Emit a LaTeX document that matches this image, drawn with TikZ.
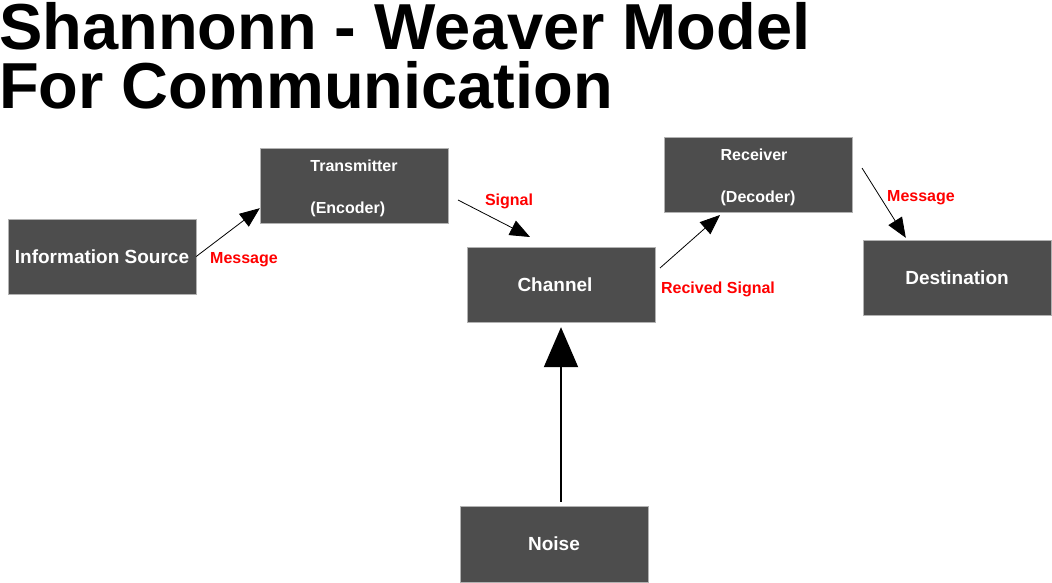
\documentclass[tikz,border=0pt]{standalone}
\usepackage{fontspec}
\setmainfont{Liberation Sans}
\usetikzlibrary{arrows.meta,calc}
\definecolor{gris}{RGB}{77,77,77}
\colorlet{rojo}{red}

\begin{document}
\begin{tikzpicture}[x=1pt,y=1pt,>={Triangle[length=20pt,width=16pt]},
  caja/.style={draw=gray!60,fill=gris,text=white,minimum width=188pt,minimum height=75pt,inner sep=0pt,font=\fontsize{19}{22}\selectfont\bfseries},
  caja2/.style={caja,align=left,font=\fontsize{16}{42}\selectfont\bfseries},
  etq/.style={text=rojo,inner sep=0pt,font=\fontsize{16}{19}\selectfont\bfseries}]
\useasboundingbox (0,0) rectangle (1052,582);
\node[anchor=north west,align=left,inner sep=0pt,font=\fontsize{65}{59}\selectfont\bfseries] (titulo) at (-1,579.5) {Shannonn - Weaver Model\\For Communication};
\node[caja] (fuente) at (102,325.5) {Information Source};
\node[caja2] (trans) at (354,396.5) {\rule{0pt}{17.5pt}Transmitter\\(Encoder)};
\node[caja] (canal) at (561,297.5) {\hspace*{-12pt}Channel};
\node[caja2] (recep) at (758,407.5) {\rule{0pt}{17.5pt}Receiver\\(Decoder)};
\node[caja] (dest) at (957,304.5) {Destination};
\node[caja,minimum height=76pt] (ruido) at (554,38) {Noise};
\coordinate (s1) at (458,382); \coordinate (s2) at (530,345);
\coordinate (r1) at (660,314); \coordinate (r2) at (720,367);
\coordinate (m2) at (862,414);
\draw[->,line width=0.8pt] (fuente.east) -- ([yshift=15pt]trans.south west);
\draw[->,line width=0.8pt] (s1) -- (s2);
\draw[->,line width=0.8pt] (r1) -- (r2);
\draw[->,line width=0.8pt] (m2) -- ([xshift=43pt,yshift=2pt]dest.north west);
\draw[-{Triangle[length=40pt,width=34pt]},line width=2pt,shorten <=4pt,shorten >=5pt] (ruido.north -| canal.south) -- (canal.south);
\node[etq] (msg1) at (244,322) {Message};
\node[etq] (senal) at (509,381) {Signal};
\node[etq] (recib) at (718,293) {Recived Signal};
\node[etq] (msg2) at (921,384) {Message};
\end{tikzpicture}
\end{document}
